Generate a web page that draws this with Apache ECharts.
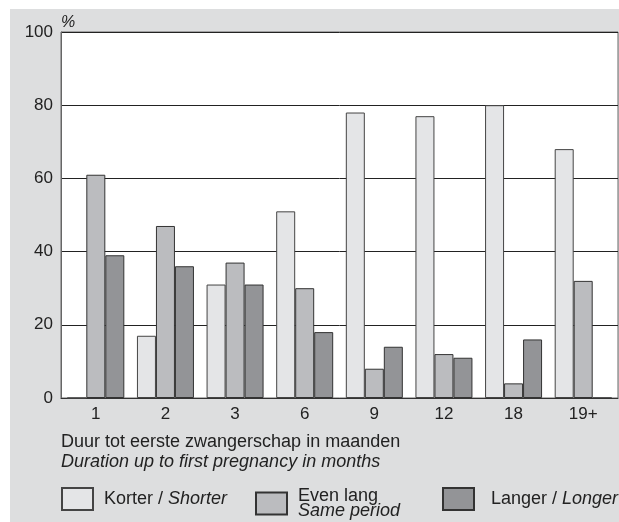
<!DOCTYPE html>
<html><head><meta charset="utf-8">
<script src="https://cdn.jsdelivr.net/npm/echarts@6/dist/echarts.min.js"></script>
<style>html,body{margin:0;padding:0;background:#fff}#c{width:619px;height:522px}</style>
</head><body><div id="c"></div>
<script>
const categories = ['1','2','3','6','9','12','18','19+'];
const shorter = [0, 17, 31, 51, 78, 77, 80, 68];
const samePeriod = [61, 47, 37, 30, 8, 12, 4, 32];
const longer = [39, 36, 31, 18, 14, 11, 16, 0];
const seriesNames = ['Korter / Shorter', 'Even lang / Same period', 'Langer / Longer'];
const yTicks = [0, 20, 40, 60, 80, 100];

const FONT = 'Liberation Sans, Arial, Helvetica, sans-serif';
const TXT = '#222';
const chart = echarts.init(document.getElementById('c'), null, {renderer: 'canvas'});

function legendCfg(name, left, fmt, padLeft) {
  return {
    data: [name], left: left, top: 487, orient: 'horizontal', padding: 0,
    itemWidth: 31, itemHeight: 22, icon: 'rect', selectedMode: false,
    formatter: fmt,
    textStyle: {
      fontFamily: FONT, fontSize: 18, color: TXT, lineHeight: 15,
      padding: [0, 0, 0, padLeft],
      rich: { i: { fontStyle: 'italic', fontFamily: FONT, fontSize: 18, color: TXT, lineHeight: 15 } }
    }
  };
}

const option = {
  backgroundColor: '#fff',
  animation: false,
  graphic: [
    { type: 'rect', left: 10, top: 9, z: -10, shape: { width: 609, height: 513 }, style: { fill: '#dddedf' } },
    { type: 'text', left: 61, top: 15, style: { text: '%', font: 'italic 16px ' + FONT, fill: TXT } },
    { type: 'text', left: 61, top: 433, style: { text: 'Duur tot eerste zwangerschap in maanden', font: '18px ' + FONT, fill: TXT } },
    { type: 'text', left: 61, top: 453, style: { text: 'Duration up to first pregnancy in months', font: 'italic 18px ' + FONT, fill: TXT } }
  ],
  legend: [
    legendCfg(seriesNames[0], 61, () => 'Korter / {i|Shorter}', 6),
    legendCfg(seriesNames[1], 255, () => 'Even lang\n{i|Same period}', 6),
    legendCfg(seriesNames[2], 442, () => 'Langer / {i|Longer}', 12)
  ],
  grid: {
    left: 61, top: 32, right: 1, bottom: 124,
    show: true, backgroundColor: '#fff', borderColor: '#666', borderWidth: 1
  },
  xAxis: {
    type: 'category', data: categories,
    axisLine: { show: true, lineStyle: { color: '#333', width: 1 } },
    axisTick: { show: false },
    axisLabel: { fontFamily: FONT, fontSize: 17, color: TXT, margin: 8 },
    splitLine: { show: false }
  },
  yAxis: {
    type: 'value', min: yTicks[0], max: yTicks[yTicks.length - 1], interval: 20,
    axisLine: { show: true, lineStyle: { color: '#666' } },
    axisTick: { show: false },
    axisLabel: { fontFamily: FONT, fontSize: 17, color: TXT, margin: 8 },
    splitLine: { show: true, lineStyle: { color: '#222', width: 1 } }
  },
  series: [
    { name: seriesNames[0], type: 'bar', data: shorter, barWidth: 19, barGap: '0%',
      itemStyle: { color: '#e4e5e7', borderColor: '#444', borderWidth: 1 } },
    { name: seriesNames[1], type: 'bar', data: samePeriod, barWidth: 19, barGap: '0%',
      itemStyle: { color: '#bbbcbf', borderColor: '#333', borderWidth: 1 } },
    { name: seriesNames[2], type: 'bar', data: longer, barWidth: 19, barGap: '0%',
      itemStyle: { color: '#939497', borderColor: '#333', borderWidth: 1 } }
  ]
};
chart.setOption(option);
</script></body></html>
